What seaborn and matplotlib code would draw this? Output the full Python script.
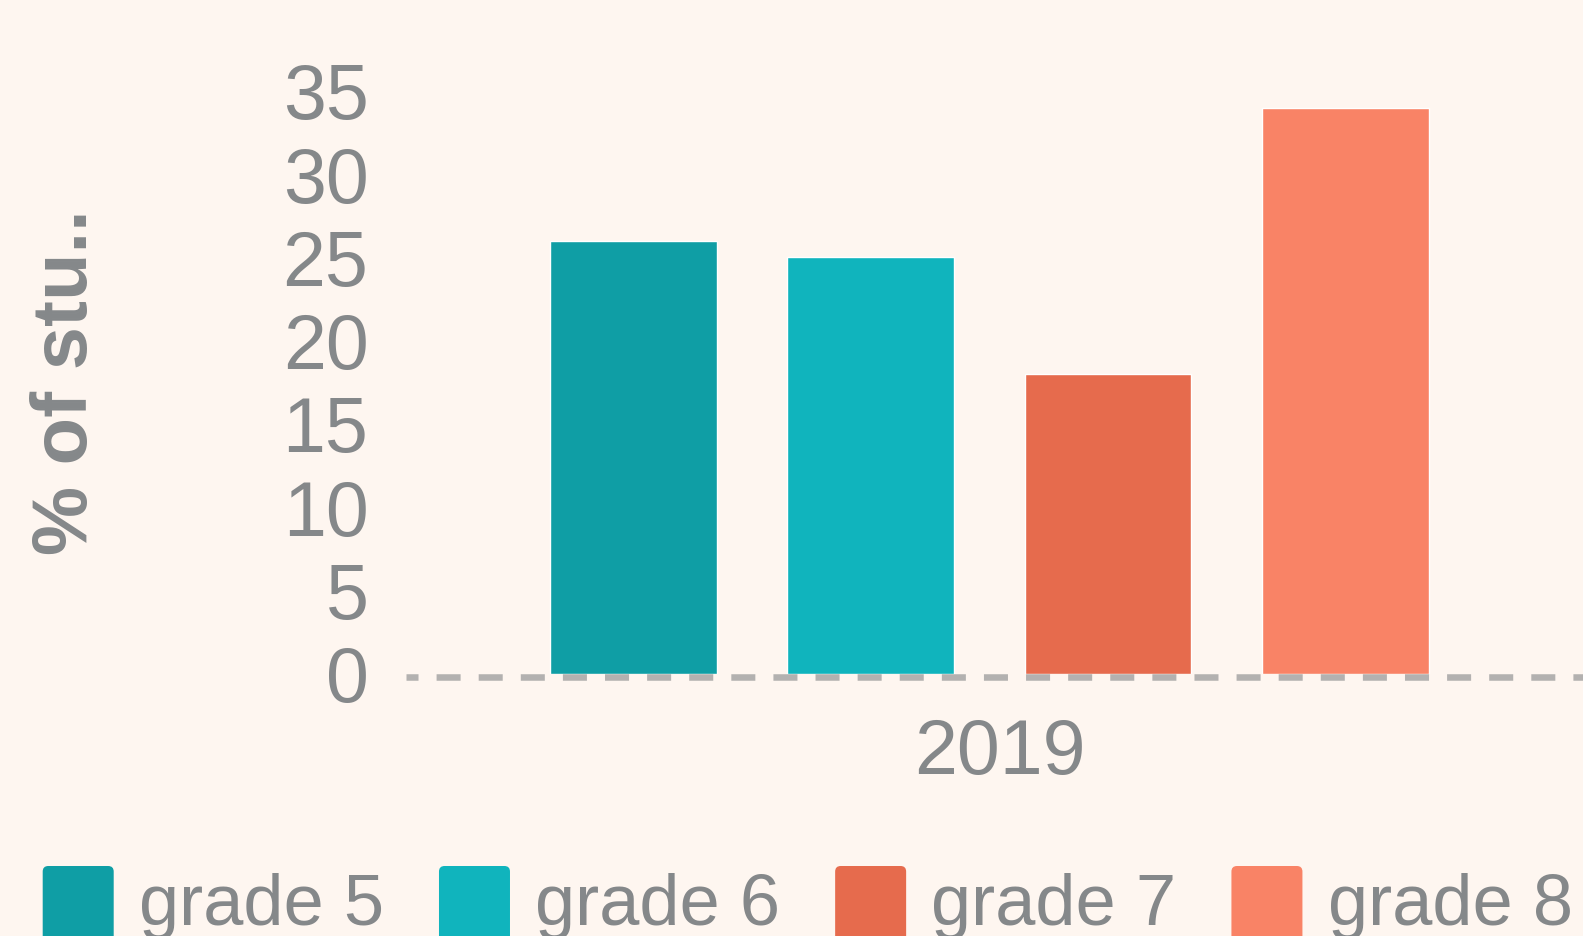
import pandas as pd
import seaborn as sns
import matplotlib.pyplot as plt
from matplotlib.patches import Patch, FancyBboxPatch
from matplotlib.legend_handler import HandlerPatch
from matplotlib.transforms import ScaledTranslation

# data
year = '2019'
grades = ['grade 5', 'grade 6', 'grade 7', 'grade 8']
pct_students = [26, 25, 18, 34]
colors = ['#0f9ea5', '#10b4bd', '#e66b4d', '#f98366']

bg = '#fef6f0'
text_gray = '#85888a'

sns.set_style('white', rc={'axes.facecolor': bg, 'figure.facecolor': bg})
plt.rcParams['font.family'] = ['Liberation Sans', 'DejaVu Sans']

df = pd.DataFrame({'year': [year] * len(grades), 'grade': grades, 'pct': pct_students})

fig = plt.figure(figsize=(15.83, 9.36), dpi=100)
W, H = 1583, 936
left, right, top, bottom = 406, 1583, 91, 673.5
ax = fig.add_axes([left / W, 1 - bottom / H, (right - left) / W, (bottom - top) / H])

sns.barplot(data=df, x='year', y='pct', hue='grade', palette=colors, ax=ax,
            width=0.8135, gap=0.298, legend=False, saturation=1)

ax.set_ylim(0, 35)
ax.set_xlim(-0.5, 0.5087)
ax.set_yticks(range(0, 36, 5))
ax.tick_params(axis='y', length=0, pad=27, labelsize=55.5, labelcolor=text_gray)
ax.tick_params(axis='x', length=0, pad=29, labelsize=55.5, labelcolor=text_gray)
ax.set_xlabel('')
ax.set_ylabel('% of stu..', fontsize=56, fontweight='bold', color=text_gray, va='center')
ax.yaxis.set_label_coords((67 - left) / (right - left), 0.5)

for s in ['top', 'right', 'left']:
    ax.spines[s].set_visible(False)
sp = ax.spines['bottom']
sp.set_position(('outward', 2.3))
sp.set_color('#b3b1b0')
sp.set_linewidth(4.7)
sp.set_linestyle((1.84, (3.68, 2.77)))
sp.set_capstyle('butt')


class RoundedHandler(HandlerPatch):
    def create_artists(self, legend, orig_handle, xdescent, ydescent,
                       width, height, fontsize, trans):
        # swatch runs off the bottom edge like in the reference
        p = FancyBboxPatch((-xdescent, -ydescent - 12), width, height + 12 - 3.6,
                           boxstyle='round,pad=0,rounding_size=4',
                           facecolor=orig_handle.get_facecolor(),
                           edgecolor='none', transform=trans)
        return [p]


handles = [Patch(facecolor=c, label=g) for c, g in zip(colors, grades)]
leg = fig.legend(handles=handles, loc='upper left', bbox_to_anchor=(42.7 / W, 1 - 861 / H),
                 ncol=4, frameon=False, fontsize=52, handlelength=0.983, handleheight=1.3,
                 handletextpad=0.35, columnspacing=0.76, borderpad=0, borderaxespad=0,
                 handler_map={Patch: RoundedHandler()})
for t in leg.get_texts():
    t.set_color(text_gray)

# year label sits a little right of the bar group in the reference
fig.canvas.draw()
for lab in ax.get_xticklabels():
    lab.set_transform(lab.get_transform() + ScaledTranslation(0.1, 0, fig.dpi_scale_trans))

fig.savefig('out.png', dpi=100, facecolor=bg)
